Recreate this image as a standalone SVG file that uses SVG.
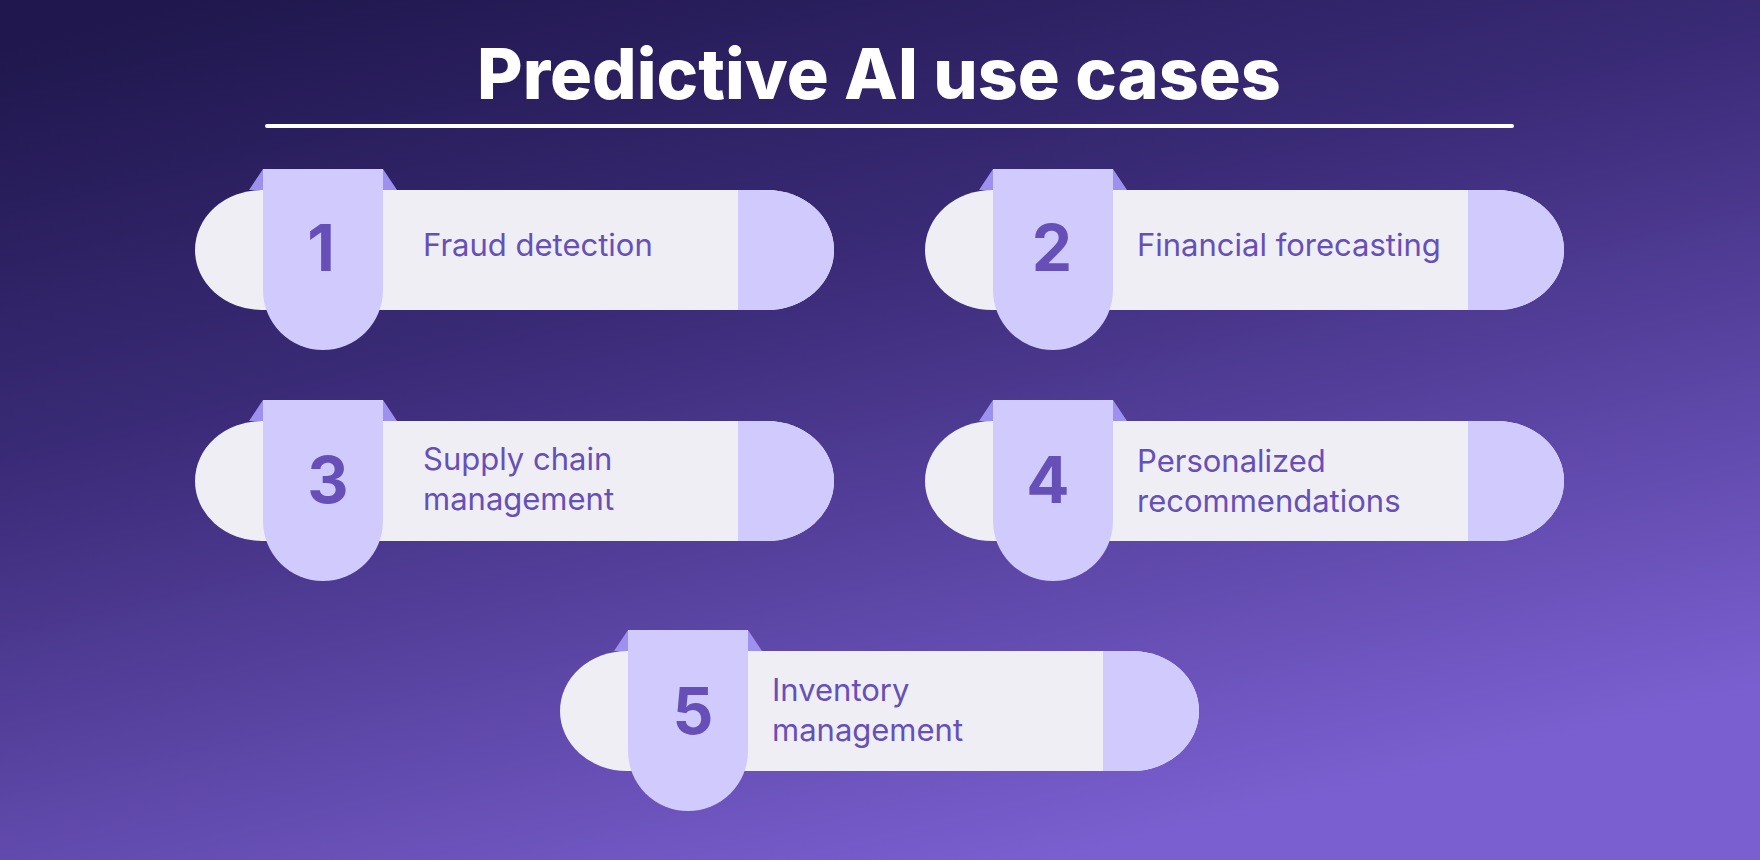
<svg xmlns="http://www.w3.org/2000/svg" width="1760" height="860" viewBox="0 0 1760 860">
<defs>
<linearGradient id="bg" x1="0.1" y1="0" x2="0.6" y2="1" gradientUnits="objectBoundingBox">
<stop offset="0" stop-color="#1f174d"/>
<stop offset="0.4" stop-color="#3b2b78"/>
<stop offset="1" stop-color="#7a5fd0"/>
</linearGradient>
<g id="card">
<path d="M67,0 H572 A67,60 0 0 1 572,120 H67 A67,60 0 0 1 67,0 Z" fill="#efeef4"/>
<path d="M543,0 H572 A67,60 0 0 1 572,120 H543 Z" fill="#d1cbfd"/>
<polygon points="54,0 68,-21 68,0" fill="#9d90ee"/>
<polygon points="188,-21 202,0 188,0" fill="#9d90ee"/>
<path d="M68,-21 H188 V100 A60,60 0 0 1 68,100 Z" fill="#d1cbfd"/>
</g>
</defs>
<style>
.num{font-family:Inter,"Liberation Sans",sans-serif;font-weight:700;font-size:64px;fill:#6650b8;text-anchor:middle}
.lbl{font-family:Inter,"Liberation Sans",sans-serif;font-size:31px;fill:#6650b8}
</style>
<rect width="1760" height="860" fill="url(#bg)"/>
<text x="879" y="99" font-family="Inter,'Liberation Sans',sans-serif" font-weight="800" font-size="70" fill="#ffffff" text-anchor="middle">Predictive AI use cases</text>
<line x1="267" y1="126" x2="1512" y2="126" stroke="#ffffff" stroke-width="4" stroke-linecap="round"/>
<g id="connectors"/>
<g id="node1"><use href="#card" x="195" y="190"/><text class="num" x="321" y="271">1</text><text class="lbl" x="423" y="256">Fraud detection</text></g>
<g id="node2"><use href="#card" x="925" y="190"/><text class="num" x="1052" y="271">2</text><text class="lbl" x="1137" y="256">Financial forecasting</text></g>
<g id="node3"><use href="#card" x="195" y="421"/><text class="num" x="328" y="503">3</text><text class="lbl" x="423" y="470">Supply chain</text><text class="lbl" x="423" y="510">management</text></g>
<g id="node4"><use href="#card" x="925" y="421"/><text class="num" x="1048" y="503">4</text><text class="lbl" x="1137" y="472">Personalized</text><text class="lbl" x="1137" y="512">recommendations</text></g>
<g id="node5"><use href="#card" x="560" y="651"/><text class="num" x="693" y="734">5</text><text class="lbl" x="772" y="701">Inventory</text><text class="lbl" x="772" y="741">management</text></g>
</svg>
